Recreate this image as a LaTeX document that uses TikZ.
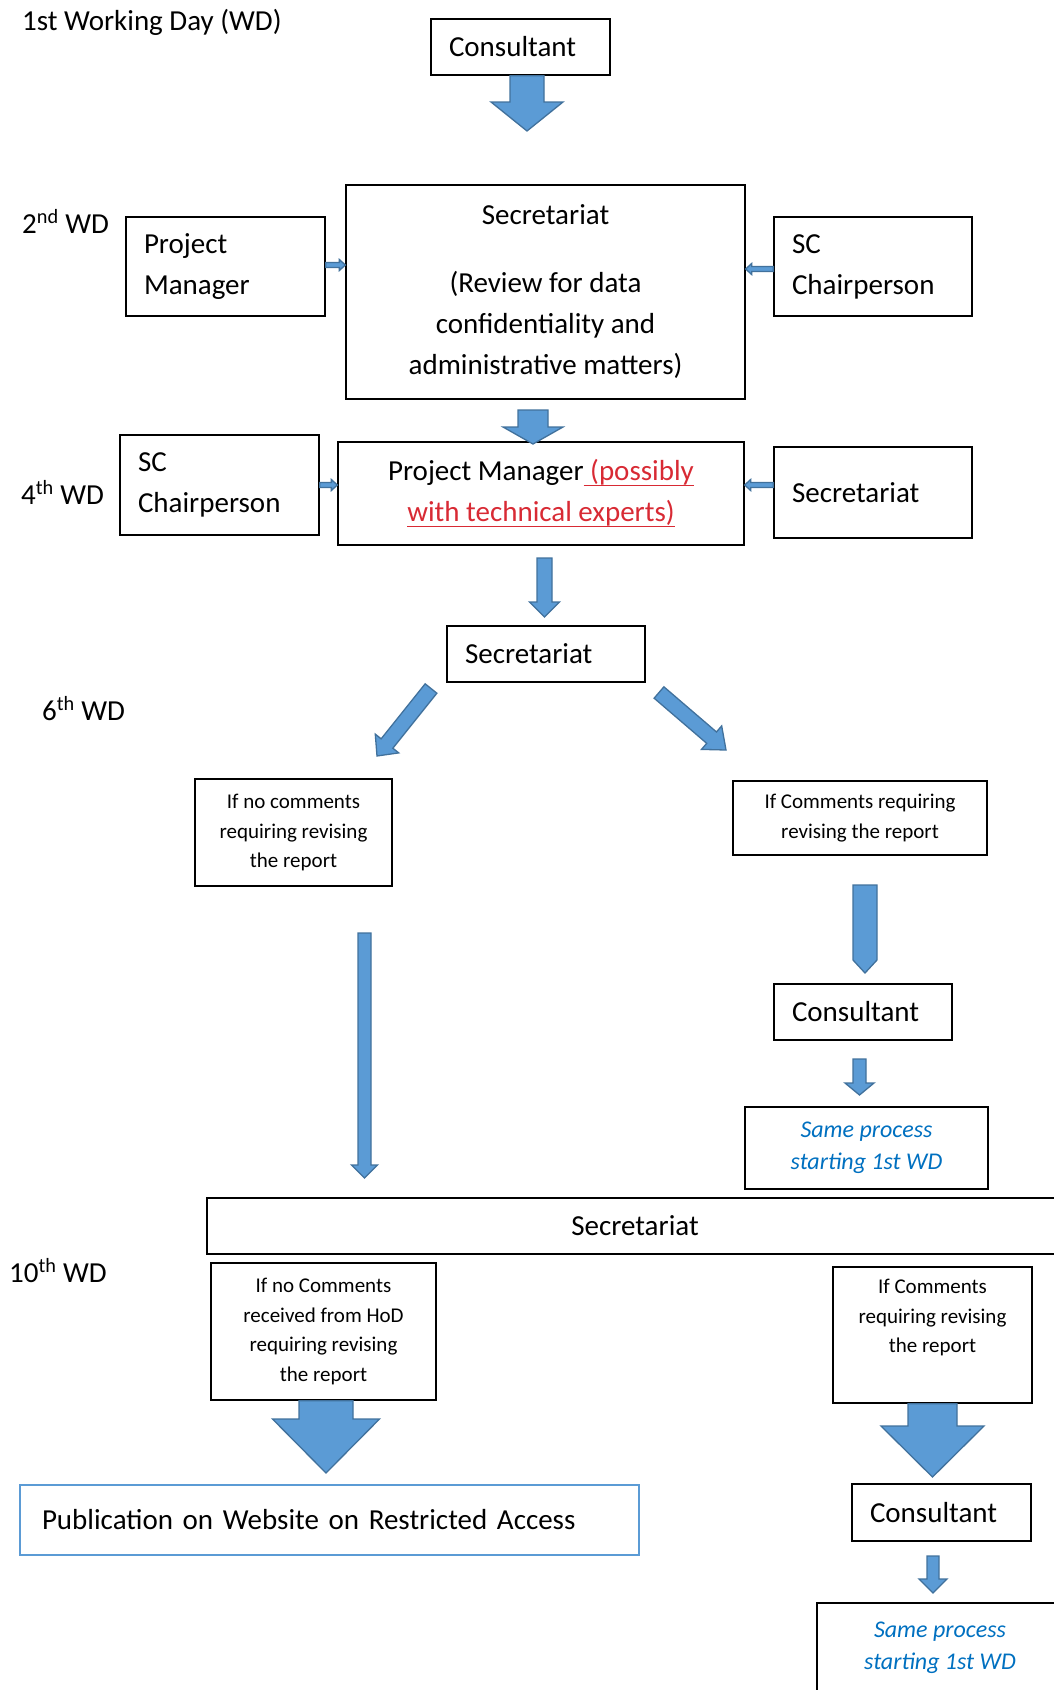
\documentclass[tikz,border=0pt]{standalone}
\usepackage{fontspec}
\setmainfont{Carlito}
\usetikzlibrary{calc}
\usetikzlibrary{decorations.pathreplacing}
\usetikzlibrary{positioning}

\definecolor{arrowblue}{HTML}{5B9BD5}
\definecolor{arrowedge}{HTML}{41719C}
\definecolor{linkred}{RGB}{216,42,52}
\definecolor{noteblue}{HTML}{0070C0}

% red underlined remark
\newcommand{\redul}[1]{{\color{linkred}\setbox0\hbox{#1}\rlap{\rule[-5.4pt]{\wd0}{1.8pt}}\box0}}

\tikzset{
  % block arrow drawn along each segment of a path:
  % #1 half shaft width, #2 half head width, #3 head length
  blk/.style n args={3}{
    decorate,
    decoration={
      show path construction,
      moveto code={},
      lineto code={
        \coordinate (hb) at ($(\tikzinputsegmentlast)!#3!(\tikzinputsegmentfirst)$);
        \filldraw[arrow body]
          ($(\tikzinputsegmentfirst)!#1!90:(\tikzinputsegmentlast)$)
          -- ($(hb)!#1!90:(\tikzinputsegmentlast)$)
          -- ($(hb)!#2!90:(\tikzinputsegmentlast)$)
          -- (\tikzinputsegmentlast)
          -- ($(hb)!#2!-90:(\tikzinputsegmentlast)$)
          -- ($(hb)!#1!-90:(\tikzinputsegmentlast)$)
          -- ($(\tikzinputsegmentfirst)!#1!-90:(\tikzinputsegmentlast)$)
          -- cycle;
      }
    }
  },
  % the little arrows between side boxes
  tiny blk/.style={blk={2.5pt}{5.5pt}{6pt}},
  arrow body/.style={
    fill=arrowblue,
    draw=arrowedge,
    line width=1.3pt
  }
}
\tikzset{
  box/.style={
    draw=black,
    line width=1.3pt,
    rectangle,
    inner ysep=0pt
  },
  % text starts at the left
  lbox/.style={box, align=left, inner xsep=18pt},
  % text in the middle
  cbox/.style={box, align=center, inner xsep=0pt},
  bigfont/.style={font=\fontsize{29}{41}\selectfont},
  smallfont/.style={font=\fontsize{21}{29.5}\selectfont},
  notefont/.style={font=\fontsize{24}{32}\selectfont\itshape, text=noteblue},
  daylabel/.style={bigfont, anchor=base west, inner sep=0pt}
}

\begin{document}
\begin{tikzpicture}[x=1pt, y=-1pt]
  \useasboundingbox (0,0) rectangle (1053,1690);

  % working days
  \node[daylabel] (wd1) at (22,30) {1st Working Day (WD)};
  \node[daylabel] (wd2) at (22,233) {2\textsuperscript{nd} WD};
  \node[daylabel] (wd4) at (21,504) {4\textsuperscript{th} WD};
  \node[daylabel] (wd6) at (42,720) {6\textsuperscript{th} WD};
  \node[daylabel] (wd10) at (9,1282) {10\textsuperscript{th} WD};

  % 1st WD
  \node[lbox, bigfont, text width=143pt, minimum height=56pt] (cons1) at (520.5,47) {Consultant};

  % 2nd WD
  \node[lbox, bigfont, text width=163pt, minimum height=99pt] (pm1) at (225.5,266.5) {Project\\Manager};
  \node[cbox, bigfont, minimum width=399pt, minimum height=214pt] (sec1) at (545.5,292)
    {Secretariat\\[27pt](Review for data\\confidentiality and\\administrative matters)};
  \node[lbox, bigfont, text width=162pt, minimum height=99pt] (scc1) at (873,266.5) {SC\\Chairperson};

  % 4th WD
  \node[lbox, bigfont, text width=163pt, minimum height=100pt] (scc2) at (219.5,485) {SC\\Chairperson};
  \node[cbox, bigfont, minimum width=406pt, minimum height=103pt] (pm2) at (541,493.5)
    {Project Manager\redul{ (possibly}\\\redul{with technical experts)}};
  \node[lbox, bigfont, text width=162pt, minimum height=91pt] (sec2) at (873,492.5) {Secretariat};

  % 6th WD
  \node[lbox, bigfont, text width=162pt, minimum height=56pt] (sec3) at (546,654) {Secretariat};
  \node[cbox, smallfont, minimum width=197pt, minimum height=107pt] (nocom1) at (293.5,832.5)
    {If no comments\\requiring revising\\the report};
  \node[cbox, smallfont, minimum width=254pt, minimum height=74pt] (com1) at (860,818)
    {If Comments requiring\\revising the report};
  \node[lbox, bigfont, text width=142pt, minimum height=56pt] (cons2) at (863,1012) {Consultant};
  \node[cbox, notefont, minimum width=243pt, minimum height=82pt] (same1) at (866.5,1148)
    {Same process\\starting 1st WD};

  % 10th WD
  \node[cbox, bigfont, minimum width=856pt, minimum height=56pt] (sec4) at (635,1226) {Secretariat};
  \node[cbox, smallfont, minimum width=225pt, minimum height=137pt] (nocom2) at (323.5,1331.5)
    {If no Comments\\received from HoD\\requiring revising\\the report};
  \node[cbox, smallfont, minimum width=199pt, minimum height=136pt] (com2) at (932.5,1335)
    {If Comments\\requiring revising\\the report\\\strut};
  \node[lbox, bigfont, draw=arrowblue, line width=2pt, inner xsep=22pt, text width=575pt,
    minimum height=70pt] (pub) at (329.5,1520) {Publication on Website on Restricted Access};
  \node[lbox, bigfont, text width=143pt, minimum height=57pt] (cons3) at (941.5,1512.5) {Consultant};
  \node[cbox, notefont, minimum width=246pt, minimum height=89pt] (same2) at (940,1647.5)
    {Same process\\starting 1st WD};

  % arrow ends
  \coordinate (t1) at (527,131);
  \coordinate (lv2) at (0,265);
  \coordinate (lv3) at (0,269);
  \coordinate (s4) at (533,410);
  \coordinate (t4) at (533,444);
  \coordinate (lv5) at (0,485);
  \coordinate (s7) at (544.5,558);
  \coordinate (t7) at (544.5,617);
  \coordinate (s8) at (431,688.5);
  \coordinate (t8) at (377,756);
  \coordinate (s9) at (659,692.5);
  \coordinate (t9) at (726,750);
  \coordinate (s10) at (364.5,933);
  \coordinate (t10) at (364.5,1178);
  \coordinate (s11) at (865,885);
  \coordinate (t11) at (865,973);
  \coordinate (s12) at (859.5,1059);
  \coordinate (t12) at (859.5,1095);
  \coordinate (t13) at (326,1473);
  \coordinate (t14) at (932.5,1477);
  \coordinate (s15) at (933,1556);
  \coordinate (t15) at (933,1593);

  % arrows
  \path[blk={17pt}{36pt}{29pt}] (cons1.south -| t1) -- (t1);
  \path[tiny blk] (pm1.east |- lv2) -- (sec1.west |- lv2);
  \path[tiny blk] (scc1.west |- lv3) -- (sec1.east |- lv3);
  \path[blk={15pt}{30pt}{17pt}] (s4) -- (t4);
  \path[tiny blk] (scc2.east |- lv5) -- (pm2.west |- lv5);
  \path[tiny blk] (sec2.west |- lv5) -- (pm2.east |- lv5);
  \path[blk={7.5pt}{15pt}{15pt}] (s7) -- (t7);
  \path[blk={7.5pt}{15pt}{16pt}] (s8) -- (t8);
  \path[blk={7.5pt}{15.5pt}{19pt}] (s9) -- (t9);
  \path[blk={6.5pt}{13pt}{13pt}] (s10) -- (t10);
  \path[blk={12pt}{12pt}{13pt}] (s11) -- (t11);
  \path[blk={6.5pt}{14.5pt}{12pt}] (s12) -- (t12);
  \path[blk={27pt}{53.5pt}{54pt}] (nocom2.south -| t13) -- (t13);
  \path[blk={24.5pt}{51.5pt}{51pt}] (com2.south -| t14) -- (t14);
  \path[blk={6pt}{14pt}{14pt}] (s15) -- (t15);
\end{tikzpicture}
\end{document}
